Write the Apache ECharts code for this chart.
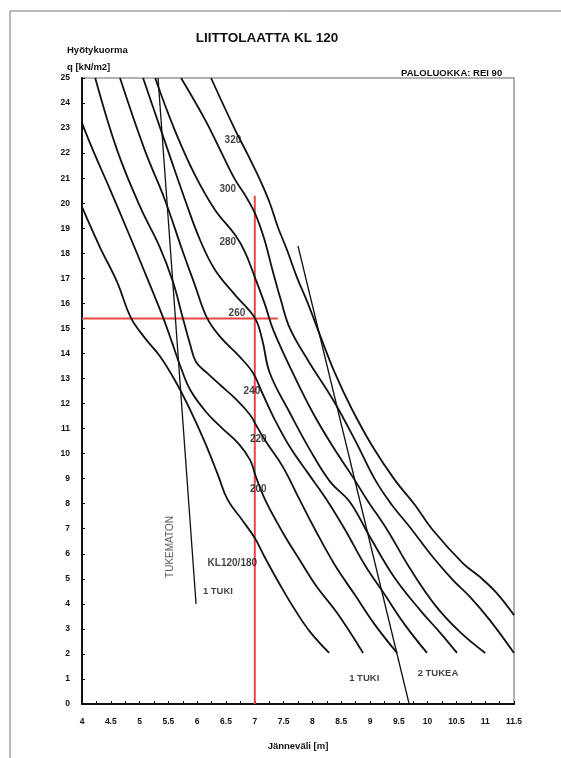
<!DOCTYPE html>
<html>
<head>
<meta charset="utf-8">
<script src="https://cdn.jsdelivr.net/npm/echarts@6/dist/echarts.min.js"></script>
<style>
html,body{margin:0;padding:0;background:#fff;}
#c{width:561px;height:758px;}
</style>
</head>
<body>
<div id="c"></div>
<script>
// ---- data (x = span [m], y = load q [kN/m2]) ----
const xTicks = [4,4.5,5,5.5,6,6.5,7,7.5,8,8.5,9,9.5,10,10.5,11,11.5];
const curve180 = [[4.00,19.85],[4.31,18.25],[4.61,16.85],[4.85,15.42],[5.09,14.62],[5.35,13.90],[5.61,12.94],[5.88,11.74],[6.14,10.42],[6.36,9.15],[6.53,8.15],[6.78,7.35],[7.00,6.63],[7.18,5.83],[7.44,4.75],[7.70,3.75],[7.96,2.88],[8.29,2.04]];
const curve200 = [[4.00,23.20],[4.19,22.12],[4.49,20.53],[4.80,18.85],[5.11,17.13],[5.41,15.42],[5.56,14.46],[5.70,13.54],[5.88,12.54],[6.17,11.62],[6.43,11.02],[6.71,10.42],[6.92,9.74],[7.02,9.07],[7.18,8.15],[7.49,6.83],[7.78,5.75],[8.08,4.67],[8.43,3.63],[8.88,2.04]];
const curve220 = [[4.23,25],[4.61,22.12],[5.01,19.85],[5.35,18.25],[5.58,16.85],[5.75,15.42],[5.88,14.34],[5.98,13.66],[6.17,13.22],[6.40,12.74],[6.69,12.14],[6.92,11.54],[7.04,11.06],[7.21,10.42],[7.49,9.46],[7.78,8.15],[8.05,6.95],[8.39,5.55],[8.74,4.35],[9.09,3.15],[9.47,2.04]];
const curve240 = [[4.66,25],[5.09,22.12],[5.44,20.13],[5.74,18.13],[5.96,16.73],[6.17,15.42],[6.40,14.66],[6.74,13.86],[6.97,13.22],[7.13,12.42],[7.35,11.34],[7.61,10.26],[7.92,9.23],[8.25,8.15],[8.57,6.95],[8.91,5.55],[9.26,4.35],[9.61,3.15],[9.99,2.04]];
const curve260 = [[5.06,25],[5.49,22.12],[5.79,20.13],[6.05,18.53],[6.31,17.33],[6.66,16.33],[7.00,15.42],[7.13,14.54],[7.26,13.22],[7.61,11.62],[7.96,10.14],[8.31,8.87],[8.65,8.07],[9.00,6.67],[9.43,5.03],[9.87,3.75],[10.22,2.84],[10.51,2.04]];
const curve280 = [[5.27,25],[5.61,22.92],[5.96,21.13],[6.31,19.73],[6.66,18.73],[6.83,18.05],[7.00,17.05],[7.18,15.93],[7.32,14.94],[7.66,13.22],[8.01,11.62],[8.36,10.26],[8.70,9.07],[8.95,8.15],[9.30,6.95],[9.69,5.43],[10.13,3.95],[10.56,2.88],[11.00,2.04]];
const curve300 = [[5.72,25],[6.14,23.32],[6.40,22.12],[6.66,20.93],[6.83,20.33],[7.00,19.61],[7.16,18.60],[7.31,17.30],[7.45,16.15],[7.61,15.00],[7.93,13.70],[8.36,12.14],[8.74,10.54],[9.09,8.95],[9.38,7.95],[9.69,7.07],[10.09,5.87],[10.44,4.95],[10.74,4.27],[11.08,3.35],[11.50,2.04]];
const curve320 = [[6.24,25],[6.66,22.92],[6.88,21.93],[7.09,20.93],[7.26,20.01],[7.40,19.05],[7.56,18.13],[7.73,17.05],[7.92,16.01],[8.13,14.74],[8.39,13.22],[8.68,11.80],[9.05,10.26],[9.43,8.95],[9.78,7.95],[10.09,6.95],[10.61,5.63],[10.91,5.07],[11.20,4.43],[11.50,3.55]];
const lineUnsupported = [[5.32,25],[5.98,4.0]];
const lineOneSupport = [[7.75,18.29],[9.68,0]];
const redHorizontal = [[4,15.4],[7.4,15.4]];
const redVertical = [[7.0,0],[7.0,20.3]];
const curveLabels = [
  {name:'320', value:[6.62,22.52]},
  {name:'300', value:[6.53,20.57]},
  {name:'280', value:[6.53,18.45]},
  {name:'260', value:[6.69,15.62]},
  {name:'240', value:[6.95,12.50]},
  {name:'220', value:[7.06,10.58]},
  {name:'200', value:[7.06,8.59]},
  {name:'KL120/180', value:[6.61,5.63]}
];
const regionLabels = [
  {name:'1 TUKI', value:[6.36,4.51]},
  {name:'1 TUKI', value:[8.90,1.04]},
  {name:'2 TUKEA', value:[10.18,1.24]}
];
const rotatedLabels = [{name:'TUKEMATON', value:[5.53,6.27]}];

const FONT = '"Liberation Sans", Arial, sans-serif';
const chart = echarts.init(document.getElementById('c'), null, {renderer:'canvas'});

function curve(data){
  return {type:'line', data:data, smooth:0.4, symbol:'none', silent:true,
    lineStyle:{color:'#111', width:1.8}, z:3};
}
function straight(data, color, width, z){
  return {type:'line', data:data, smooth:false, symbol:'none', silent:true,
    lineStyle:{color:color, width:width}, z:z};
}
function labels(data, size, extra){
  return Object.assign({type:'scatter', data:data, symbolSize:0, silent:true, z:5,
    label:Object.assign({show:true, position:'inside', formatter:'{b}', fontFamily:FONT,
      fontSize:size, fontWeight:'bold', color:'#111'}, extra || {})});
}

chart.setOption({
  animation:false,
  backgroundColor:'#fff',
  title:[
    {text:'LIITTOLAATTA KL 120', left:262, top:26, textAlign:'center',
      textStyle:{fontFamily:FONT, fontSize:13.5, fontWeight:'bold', color:'#111'}},
    {text:'Hyötykuorma', left:62, top:40,
      textStyle:{fontFamily:FONT, fontSize:9.5, fontWeight:'bold', color:'#111'}},
    {text:'q [kN/m2]', left:62, top:57,
      textStyle:{fontFamily:FONT, fontSize:9.5, fontWeight:'bold', color:'#111'}},
    {text:'PALOLUOKKA: REI 90', left:396, top:63,
      textStyle:{fontFamily:FONT, fontSize:9.5, fontWeight:'bold', color:'#111'}}
  ],
  graphic:[
    {type:'line', shape:{x1:10, y1:11, x2:561, y2:11}, style:{stroke:'#777', lineWidth:1}},
    {type:'line', shape:{x1:10, y1:11, x2:10, y2:758}, style:{stroke:'#777', lineWidth:1}}
  ],
  grid:{left:82, right:47, top:78, bottom:54, show:true, borderColor:'#999', borderWidth:1.5, backgroundColor:'#fff'},
  xAxis:{type:'value', min:4, max:11.5, interval:0.5,
    name:'Jänneväli [m]', nameLocation:'middle', nameGap:37,
    nameTextStyle:{fontFamily:FONT, fontSize:9.5, fontWeight:'bold', color:'#111'},
    axisLine:{show:true, onZero:false, lineStyle:{color:'#111', width:2}},
    axisTick:{show:true, inside:true, length:3, lineStyle:{color:'#111', width:1}},
    minorTick:{show:true, splitNumber:2, length:3, lineStyle:{color:'#111', width:1}},
    splitLine:{show:false},
    axisLabel:{margin:13, fontFamily:FONT, fontSize:8.5, fontWeight:'bold', color:'#111',
      formatter:function(v){ return xTicks.indexOf(v) >= 0 ? String(v) : ''; }}
  },
  yAxis:{type:'value', min:0, max:25, interval:1,
    axisLine:{show:true, onZero:false, lineStyle:{color:'#111', width:2}},
    axisTick:{show:true, inside:true, length:3, lineStyle:{color:'#111', width:1}},
    splitLine:{show:false},
    axisLabel:{margin:12, fontFamily:FONT, fontSize:8.5, fontWeight:'bold', color:'#111'}
  },
  series:[
    straight(redHorizontal, '#e8483f', 2, 2),
    straight(redVertical, '#e8483f', 2, 2),
    curve(curve180), curve(curve200), curve(curve220), curve(curve240),
    curve(curve260), curve(curve280), curve(curve300), curve(curve320),
    straight(lineUnsupported, '#111', 1.3, 3),
    straight(lineOneSupport, '#111', 1.3, 3),
    labels(curveLabels, 10),
    labels(regionLabels, 9.5),
    labels(rotatedLabels, 10, {rotate:90, fontWeight:'normal', color:'#333'})
  ]
});
</script>
</body>
</html>
